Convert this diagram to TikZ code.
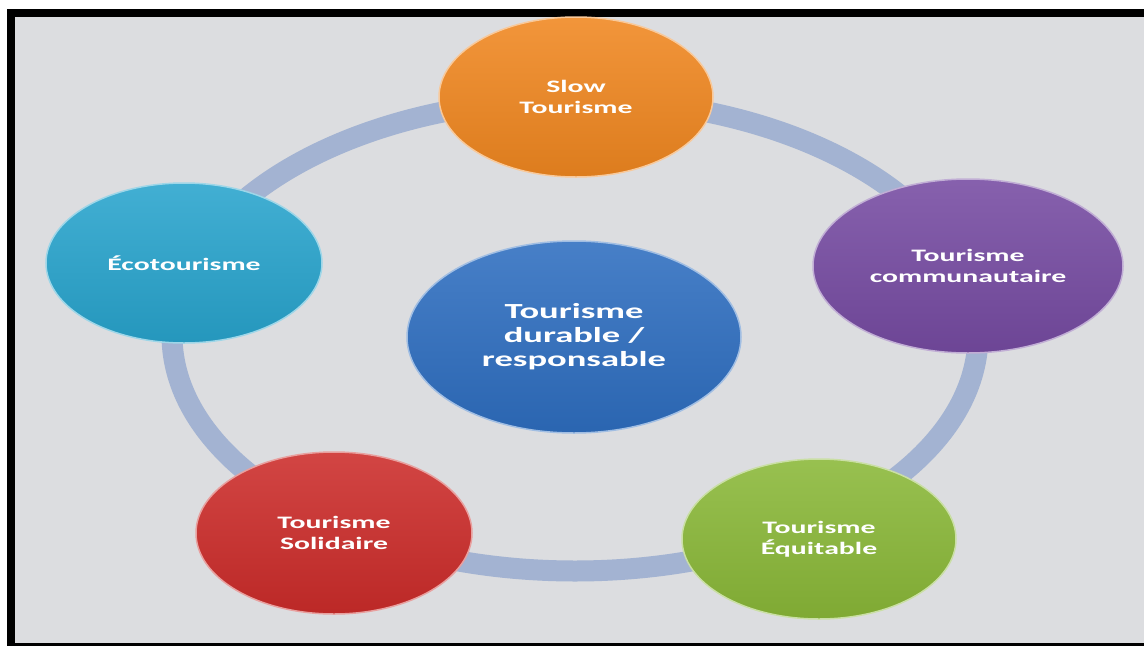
\documentclass[tikz,border=0pt]{standalone}
\usepackage{fontspec}
\setmainfont{Carlito}
\newfontfamily\bubblefont{Carlito}[FakeStretch=1.7]
\usepackage{tikz}
\usetikzlibrary{shapes.geometric}

\definecolor{bggray}{RGB}{220,221,224}
\definecolor{ringblue}{RGB}{163,179,210}
\definecolor{slowor}{RGB}{240,135,32}
\definecolor{commupu}{RGB}{118,75,162}
\definecolor{ecocy}{RGB}{40,164,205}
\definecolor{coreblue}{RGB}{46,110,192}
\definecolor{solire}{RGB}{204,44,42}
\definecolor{equigr}{RGB}{138,184,56}

\begin{document}
\begin{tikzpicture}[x=1pt,y=-1pt,
  bubble/.style={ellipse, inner sep=0pt, align=center, text=white,
    font=\bubblefont\bfseries\fontsize{17.5}{21}\selectfont,
    draw=white!55!#1, line width=1.5pt,
    top color=#1!88!white, bottom color=#1!92!black},
  ring/.style={draw=ringblue, line width=21pt}]
% frame
\fill[white] (0,0) rectangle (1144,646);
\fill[black] (7,9) rectangle (1144,646);
\fill[bggray] (15,17) rectangle (1144,643);
% ring behind the bubbles
\coordinate (hub) at (575,335);
\draw[ring] (hub) ellipse [x radius=403, y radius=236];
% bubbles
\node[bubble=coreblue, minimum width=334pt, minimum height=192pt,
  font=\bubblefont\bfseries\fontsize{21.5}{24}\selectfont] (core) at (574,337) {Tourisme\\durable /\\responsable};
\node[bubble=slowor, minimum width=274pt, minimum height=160pt] (slow) at (576,97) {Slow\\Tourisme};
\node[bubble=commupu, minimum width=310pt, minimum height=174pt] (commu) at (968,266) {Tourisme\\communautaire};
\node[bubble=equigr, minimum width=274pt, minimum height=160pt] (equi) at (819,539) {Tourisme\\Équitable};
\node[bubble=solire, minimum width=276pt, minimum height=162pt] (soli) at (334,533) {Tourisme\\Solidaire};
\node[bubble=ecocy, minimum width=276pt, minimum height=160pt] (eco) at (184,263) {Écotourisme};
\end{tikzpicture}
\end{document}
